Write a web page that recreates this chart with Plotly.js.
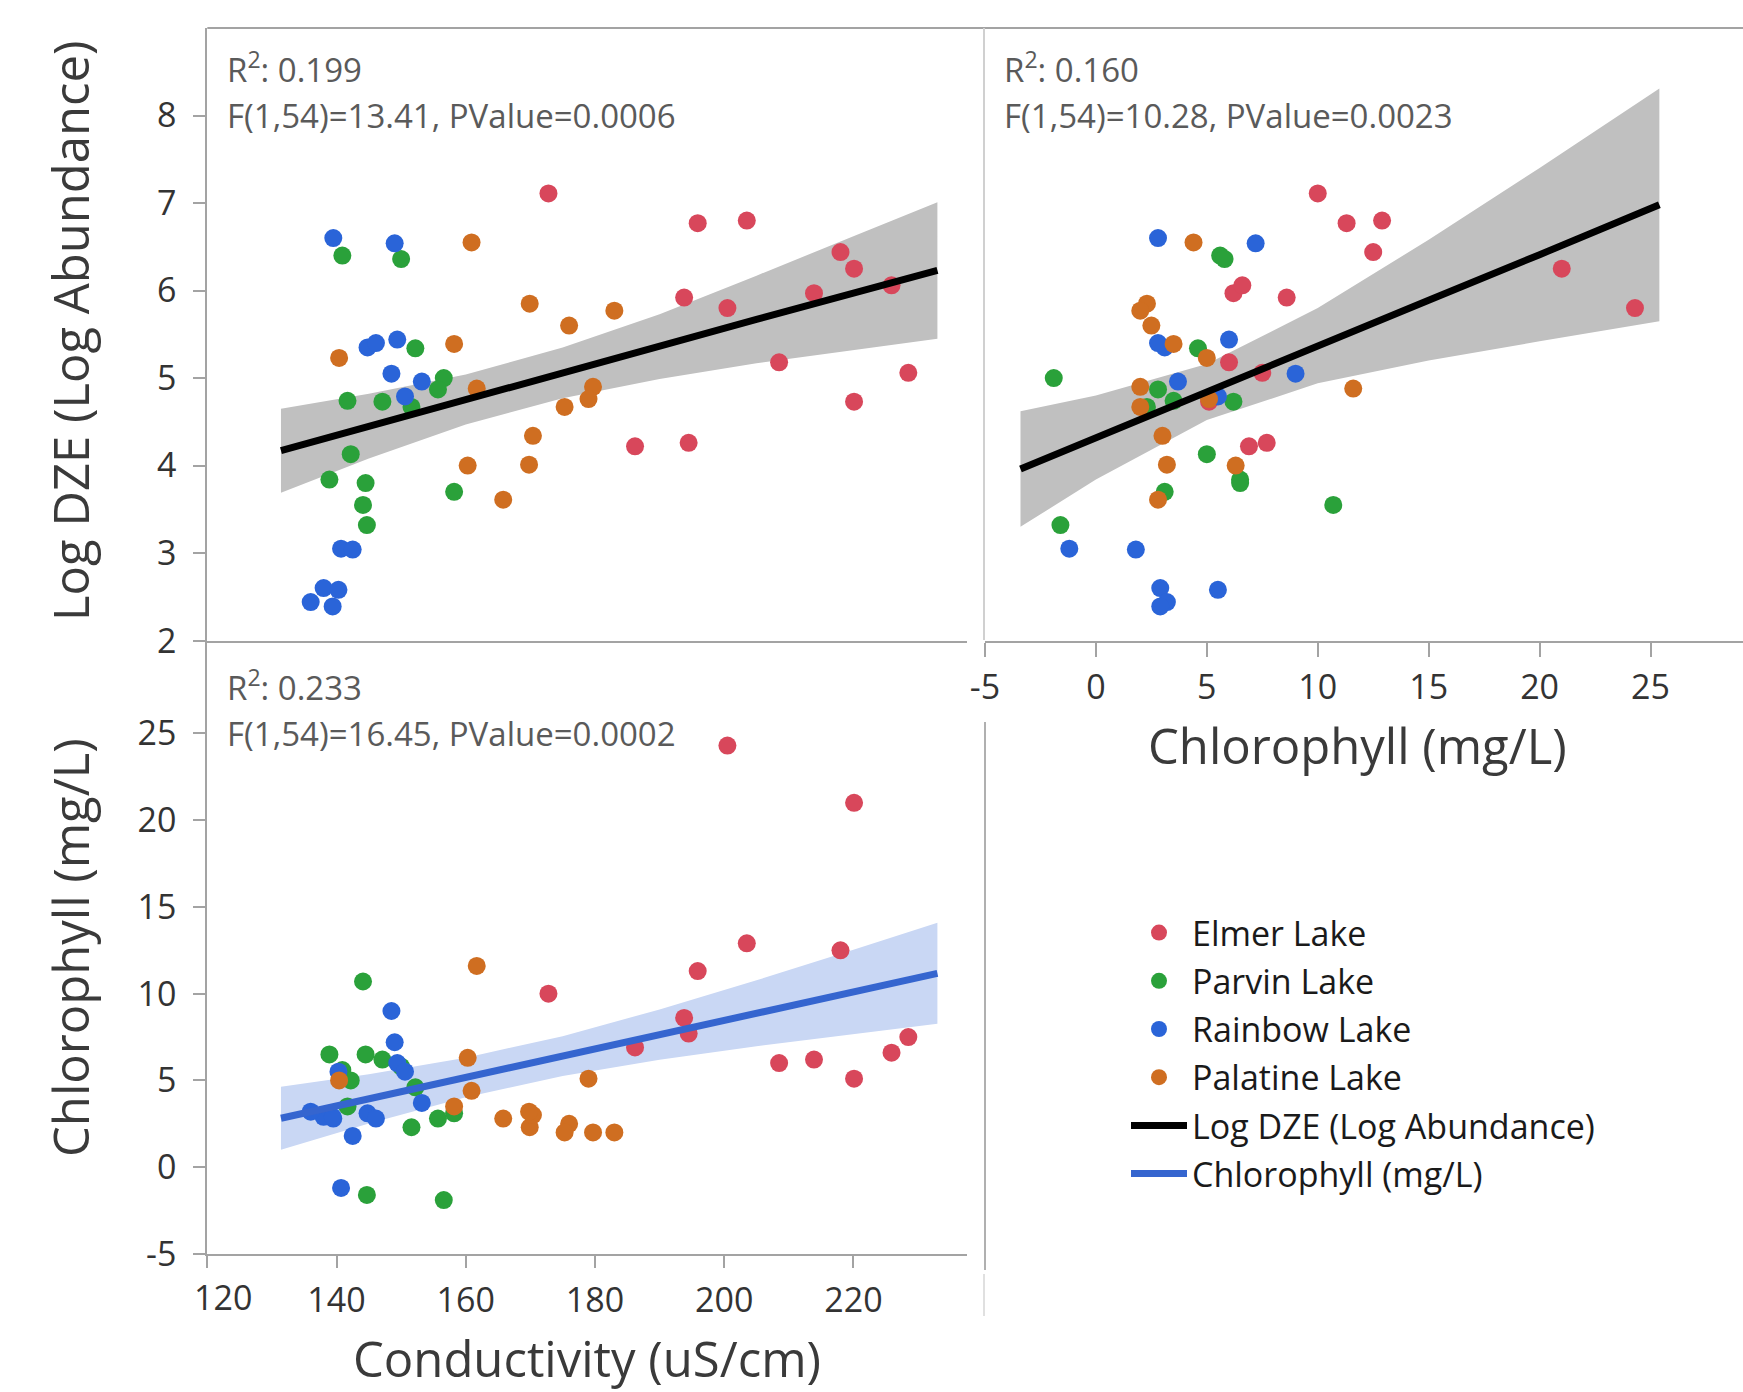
<!DOCTYPE html>
<html>
<head>
<meta charset="utf-8">
<script src="https://cdn.plot.ly/plotly-3.0.1.min.js"></script>
<style>html,body{margin:0;padding:0;background:#fff;}#chart{width:1743px;height:1392px;}</style>
</head>
<body>
<div id="chart"></div>
<script>
// ---------------- data ----------------
const lakes = ["Elmer Lake", "Parvin Lake", "Rainbow Lake", "Palatine Lake"];

const condElmer = [172.8, 186.2, 193.8, 194.5, 195.9, 200.5, 203.5, 208.5, 213.9, 218.0, 220.1, 220.1, 225.9, 228.5];
const chlElmer  = [10.0, 6.9, 8.6, 7.7, 11.3, 24.3, 12.9, 6.0, 6.2, 12.5, 21.0, 5.1, 6.6, 7.5];
const dzeElmer  = [7.11, 4.22, 5.92, 4.26, 6.77, 5.80, 6.80, 5.18, 5.97, 6.44, 6.25, 4.73, 6.06, 5.06];

const condParvin = [140.9, 150.0, 152.2, 156.6, 155.7, 141.7, 147.1, 151.6, 142.2, 138.9, 144.5, 144.1, 144.7, 158.2];
const chlParvin  = [5.6, 5.8, 4.6, -1.9, 2.8, 3.5, 6.2, 2.3, 5.0, 6.5, 6.5, 10.7, -1.6, 3.1];
const dzeParvin  = [6.40, 6.36, 5.34, 5.00, 4.87, 4.74, 4.73, 4.67, 4.13, 3.84, 3.80, 3.55, 3.32, 3.70];

const condRainbow = [139.5, 149.0, 144.8, 146.1, 149.4, 148.5, 153.2, 150.6, 140.7, 142.5, 138.0, 140.3, 136.0, 139.4];
const chlRainbow  = [2.8, 7.2, 3.1, 2.8, 6.0, 9.0, 3.7, 5.5, -1.2, 1.8, 2.9, 5.5, 3.2, 2.9];
const dzeRainbow  = [6.60, 6.54, 5.35, 5.40, 5.44, 5.05, 4.96, 4.79, 3.05, 3.04, 2.60, 2.58, 2.44, 2.39];

const condPalatine = [160.9, 169.9, 176.0, 158.2, 140.4, 161.7, 179.7, 179.0, 175.3, 170.4, 160.3, 169.8, 165.8, 183.0];
const chlPalatine  = [4.4, 2.3, 2.5, 3.5, 5.0, 11.6, 2.0, 5.1, 2.0, 3.0, 6.3, 3.2, 2.8, 2.0];
const dzePalatine  = [6.55, 5.85, 5.60, 5.39, 5.23, 4.88, 4.90, 4.76, 4.67, 4.34, 4.00, 4.01, 3.61, 5.77];

// fitted lines and 95% confidence bands
const condFit      = [131.4, 145, 160, 175, 190, 205, 220, 233];
const dzeFitCond   = [4.17, 4.45, 4.75, 5.06, 5.36, 5.67, 5.97, 6.23];
const dzeUpperCond = [4.65, 4.82, 5.04, 5.35, 5.73, 6.17, 6.62, 7.01];
const dzeLowerCond = [3.69, 4.08, 4.47, 4.77, 4.99, 5.17, 5.32, 5.45];

const chlFit      = [-3.4, 0, 5, 10, 15, 20, 25.4];
const dzeFitChl   = [3.96, 4.32, 4.84, 5.37, 5.89, 6.41, 6.98];
const dzeUpperChl = [4.62, 4.80, 5.16, 5.80, 6.58, 7.40, 8.31];
const dzeLowerChl = [3.30, 3.84, 4.52, 4.94, 5.20, 5.42, 5.65];

const chlFitCond   = [2.82, 3.94, 5.17, 6.40, 7.64, 8.87, 10.10, 11.17];
const chlUpperCond = [4.64, 5.36, 6.31, 7.55, 9.09, 10.77, 12.53, 14.08];
const chlLowerCond = [1.00, 2.52, 4.03, 5.25, 6.19, 6.97, 7.67, 8.26];

const statsDzeCond = ["R<sup>2</sup>: 0.199", "F(1,54)=13.41, PValue=0.0006"];
const statsDzeChl  = ["R<sup>2</sup>: 0.160", "F(1,54)=10.28, PValue=0.0023"];
const statsChlCond = ["R<sup>2</sup>: 0.233", "F(1,54)=16.45, PValue=0.0002"];

const condTicks = [120, 140, 160, 180, 200, 220];
const dzeTicks  = [2, 3, 4, 5, 6, 7, 8];
const chlTicks  = [-5, 0, 5, 10, 15, 20, 25];
const chlTickText = ["-5", "0", "5", "10", "15", "20", "25"];

// ---------------- styling ----------------
const W = 1743, H = 1392;
const px = v => v / W;
const py = v => 1 - v / H;
const FONT = "Open Sans, Noto Sans, sans-serif";
const colors = ["#d8475b", "#2aa13a", "#2a64d8", "#cf6e21"];
const lakeCond = [condElmer, condParvin, condRainbow, condPalatine];
const lakeChl  = [chlElmer, chlParvin, chlRainbow, chlPalatine];
const lakeDze  = [dzeElmer, dzeParvin, dzeRainbow, dzePalatine];
const MS = 18;

const traces = [];
function band(x, up, lo, xa, ya, col) {
  return {x: x.concat(x.slice().reverse()), y: up.concat(lo.slice().reverse()),
    xaxis: xa, yaxis: ya, type: "scatter", mode: "lines", fill: "toself",
    fillcolor: col, line: {width: 0, color: col}, hoverinfo: "skip", showlegend: false};
}
traces.push(band(condFit, dzeUpperCond, dzeLowerCond, "x", "y", "#c0c0c0"));
traces.push(band(chlFit, dzeUpperChl, dzeLowerChl, "x2", "y", "#c0c0c0"));
traces.push(band(condFit, chlUpperCond, chlLowerCond, "x3", "y2", "#c9d7f4"));

lakes.forEach((name, i) => {
  const mk = {size: MS, color: colors[i]};
  traces.push({x: lakeCond[i], y: lakeDze[i], xaxis: "x", yaxis: "y", type: "scatter", mode: "markers",
    marker: mk, name: name, legendgroup: name, legendrank: i + 1, showlegend: true});
  traces.push({x: lakeChl[i], y: lakeDze[i], xaxis: "x2", yaxis: "y", type: "scatter", mode: "markers",
    marker: mk, name: name, legendgroup: name, showlegend: false});
  traces.push({x: lakeCond[i], y: lakeChl[i], xaxis: "x3", yaxis: "y2", type: "scatter", mode: "markers",
    marker: mk, name: name, legendgroup: name, showlegend: false});
});

traces.push({x: condFit, y: dzeFitCond, xaxis: "x", yaxis: "y", type: "scatter", mode: "lines",
  line: {color: "#000000", width: 7}, name: "Log DZE (Log Abundance)", legendgroup: "dze", legendrank: 5});
traces.push({x: chlFit, y: dzeFitChl, xaxis: "x2", yaxis: "y", type: "scatter", mode: "lines",
  line: {color: "#000000", width: 7}, name: "Log DZE (Log Abundance)", legendgroup: "dze", showlegend: false});
traces.push({x: condFit, y: chlFitCond, xaxis: "x3", yaxis: "y2", type: "scatter", mode: "lines",
  line: {color: "#3565cf", width: 7}, name: "Chlorophyll (mg/L)", legendgroup: "chl", legendrank: 6});

const axLine = "#a3a3a3";
const tickFont = {family: FONT, size: 34, color: "#333333"};
const common = {showgrid: false, zeroline: false, showline: true, linecolor: axLine, linewidth: 2,
  ticks: "outside", ticklen: 12, tickwidth: 2, tickcolor: axLine, tickfont: tickFont, fixedrange: true};

const condDomain = [px(207.3), px(967)];
const condRange = [120, 237.58];

const layout = {
  width: W, height: H, autosize: false,
  margin: {l: 0, r: 0, t: 0, b: 0, pad: 0},
  paper_bgcolor: "#ffffff", plot_bgcolor: "rgba(0,0,0,0)",
  font: {family: FONT, color: "#333333"},
  xaxis: Object.assign({}, common, {domain: condDomain, range: condRange, anchor: "y",
    ticks: "", showticklabels: false, tickmode: "array", tickvals: []}),
  xaxis2: Object.assign({}, common, {domain: [px(985), 1], range: [-5, 29.17], anchor: "y",
    tickvals: chlTicks, ticktext: chlTickText, ticklen: 14, ticklabelstandoff: 2}),
  xaxis3: Object.assign({}, common, {domain: condDomain, range: condRange, anchor: "y2",
    tickvals: condTicks.slice(1), ticktext: condTicks.slice(1).map(String), ticklabelstandoff: 3,
    minor: {tickvals: condTicks.slice(0, 1), ticks: "outside", ticklen: 12, tickwidth: 2, tickcolor: axLine, showgrid: false}}),
  yaxis: Object.assign({}, common, {domain: [py(640.6), py(28)], range: [2, 9.0], anchor: "x",
    tickvals: dzeTicks, ticklabelstandoff: 10}),
  yaxis2: Object.assign({}, common, {domain: [py(1253.9), py(640.6)], range: [-5, 30.35], anchor: "x3",
    tickvals: chlTicks, ticktext: chlTickText, ticklabelstandoff: 10}),
  showlegend: true,
  legend: {x: px(1126), y: py(904), xanchor: "left", yanchor: "top", bgcolor: "rgba(0,0,0,0)",
    font: {family: FONT, size: 34, color: "#1a1a1a"}, itemwidth: 56, tracegroupgap: 1,
    traceorder: "grouped", itemclick: false, itemdoubleclick: false},
  shapes: [
    {type: "line", xref: "paper", yref: "paper", x0: px(207.3), x1: 1, y0: py(28), y1: py(28),
      line: {color: axLine, width: 2}},
    {type: "line", xref: "paper", yref: "paper", x0: px(984), x1: px(984), y0: py(28), y1: py(640),
      line: {color: "#d0d0d0", width: 2}},
    {type: "line", xref: "paper", yref: "paper", x0: px(985), x1: px(985), y0: py(722), y1: py(1270),
      line: {color: "#b0b0b0", width: 2}},
    {type: "line", xref: "paper", yref: "paper", x0: px(984), x1: px(984), y0: py(1274), y1: py(1316),
      line: {color: "#e0e0e0", width: 2}}
  ],
  annotations: []
};

function txt(t, x, y, opts) {
  return Object.assign({text: t, xref: "paper", yref: "paper", x: px(x), y: py(y), showarrow: false,
    xanchor: "left", yanchor: "middle", font: {family: FONT, size: 33, color: "#5a5a5a"}}, opts || {});
}
layout.annotations.push(txt(statsDzeCond[0], 225, 68), txt(statsDzeCond[1], 225, 115));
layout.annotations.push(txt(statsDzeChl[0], 1002, 68), txt(statsDzeChl[1], 1002, 115));
layout.annotations.push(txt(statsChlCond[0], 225, 685), txt(statsChlCond[1], 225, 734));

const titleFont = {family: FONT, size: 49, color: "#3a3a3a"};
layout.annotations.push(txt("Log DZE (Log Abundance)", 70, 331, {xanchor: "center", textangle: -90, font: titleFont}));
layout.annotations.push(txt("Chlorophyll (mg/L)", 70, 948, {xanchor: "center", textangle: -90, font: titleFont}));
layout.annotations.push(txt("Conductivity (uS/cm)", 587, 1358, {xanchor: "center", font: titleFont}));
layout.annotations.push(txt("Chlorophyll (mg/L)", 1357, 745, {xanchor: "center", font: titleFont}));
layout.annotations.push(txt(String(condTicks[0]), 223, 1297, {xanchor: "center", font: tickFont}));

Plotly.newPlot("chart", traces, layout, {staticPlot: true, displayModeBar: false});
</script>
</body>
</html>
